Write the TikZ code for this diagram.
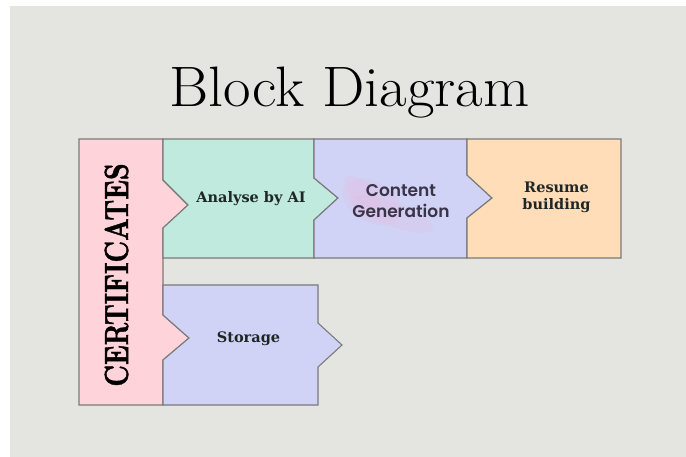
\documentclass[tikz,border=0pt]{standalone}
\usepackage{fontspec}
\usepackage{graphicx}
\setmainfont{Latin Modern Roman}
\newfontfamily\lblfont{DejaVu Serif}
\newfontfamily\certfont{lmroman10-bold.otf}[FakeBold=1.5]
\newfontfamily\cgfont{Poppins}[BoldFont={Poppins SemiBold}]
\definecolor{bgc}{HTML}{E4E4E0}
\definecolor{pinkc}{HTML}{FFD3DA}
\definecolor{greenc}{HTML}{BFEADD}
\definecolor{lavc}{HTML}{D0D3F5}
\definecolor{peachc}{HTML}{FFDDB9}
\definecolor{edgec}{HTML}{7A7A7A}
\definecolor{txtc}{HTML}{1E2626}
\definecolor{cgtxt}{HTML}{3A3448}
\definecolor{brushc}{HTML}{ECB8E0}
\tikzset{
  blockshape/.style={draw=edgec, line width=1.1pt, line join=miter},
  lbl/.style={text=txtc, font=\lblfont\bfseries\fontsize{14.5}{17}\selectfont, align=center, inner sep=0pt},
}
\begin{document}
\begin{tikzpicture}[x=1pt, y=-1pt]
\useasboundingbox (0,0) rectangle (686,457);
\fill[white] (0,0) rectangle (686,457);
\fill[bgc] (10,6) rectangle (686,457);
% blocks
\filldraw[blockshape, fill=pinkc] (79,139) -- (163,139) -- (163,180) -- (188,205) -- (163,228) -- (163,315) -- (189,338) -- (163,360) -- (163,405) -- (79,405) -- cycle;
\filldraw[blockshape, fill=greenc] (163,139) -- (314,139) -- (314,178) -- (338,198) -- (314,220) -- (314,258) -- (163,258) -- (163,228) -- (188,205) -- (163,180) -- cycle;
\filldraw[blockshape, fill=lavc] (314,139) -- (467,139) -- (467,175) -- (492,198) -- (467,218) -- (467,258) -- (314,258) -- (314,220) -- (338,198) -- (314,178) -- cycle;
\filldraw[blockshape, fill=peachc] (467,139) -- (621,139) -- (621,258) -- (467,258) -- (467,218) -- (492,198) -- (467,175) -- cycle;
\filldraw[blockshape, fill=lavc] (163,285) -- (318,285) -- (318,323) -- (342,345) -- (318,367) -- (318,405) -- (163,405) -- (163,360) -- (189,338) -- (163,315) -- cycle;
% brush stroke
\begin{scope}[opacity=0.2]
\fill[brushc, rotate around={-28:(372,202)}] (372,202) ellipse (32pt and 20pt);
\fill[brushc, rotate around={-20:(392,214)}] (392,214) ellipse (44pt and 12pt);
\fill[brushc, rotate around={-40:(362,192)}] (362,192) ellipse (22pt and 10pt);
\end{scope}
% title
\node[anchor=base, inner sep=0pt] (title) at (349.5,107) {\scalebox{1.05}[1]{\fontsize{57}{57}\selectfont Block Diagram}};
% certificates
\node[rotate=90, inner sep=0pt] (cert) at (116.5,275) {\scalebox{0.78}[1]{\certfont\fontsize{33.5}{33}\selectfont CERTIFICATES}};
% labels
\node[lbl, anchor=base] (ai) at (251,203) {Analyse by AI};
\node[text=cgtxt, font=\cgfont\bfseries\fontsize{17}{21}\selectfont, align=center, inner sep=0pt, anchor=base] (cg) at (401,218) {Content\\Generation};
\node[lbl, anchor=base] (rb) at (556.5,210) {Resume\\building};
\node[lbl, anchor=base] (st) at (248.5,342) {Storage};
\end{tikzpicture}
\end{document}
